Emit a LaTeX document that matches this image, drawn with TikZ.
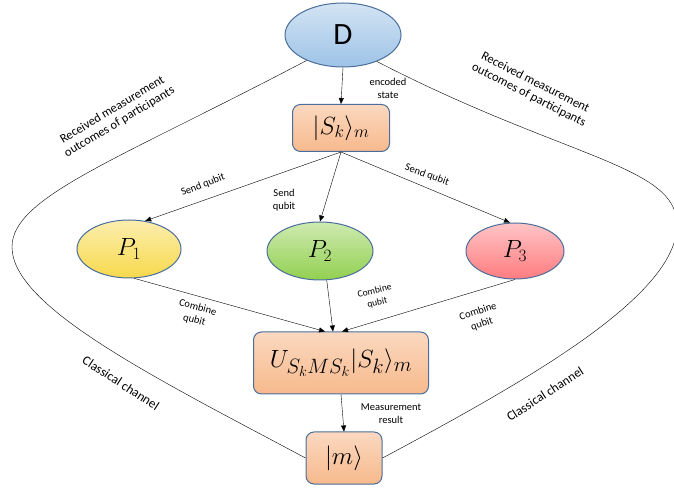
\documentclass[tikz,border=0pt]{standalone}
\usepackage{fontspec}
\setmainfont{Carlito}
\usetikzlibrary{arrows.meta,shapes.geometric,positioning}
\definecolor{bordblue}{HTML}{4A6E9C}
\definecolor{dealerblue}{HTML}{9DC3E6}
\definecolor{pyellow}{HTML}{F7D94C}
\definecolor{pgreen}{HTML}{92D050}
\definecolor{ppink}{HTML}{FF7C80}
\definecolor{peach}{HTML}{F7B98C}

\begin{document}
\begin{tikzpicture}[x=1pt, y=1pt, >={Triangle[length=6pt,width=5pt]},
  party/.style={ellipse, draw=bordblue, line width=1pt, inner sep=0pt,
    font=\fontsize{26}{28}\selectfont},
  statebox/.style={rectangle, rounded corners=8pt, draw=bordblue, line width=1pt,
    top color=peach!55!white, bottom color=peach, inner sep=0pt},
  lbl/.style={font=\fontsize{10.5}{13}\selectfont, align=center, inner sep=1pt},
  chan/.style={font=\fontsize{12.5}{14}\selectfont, align=center, inner sep=1pt}]
  \useasboundingbox (0,0) rectangle (674,487);
  % dealer and shared state
  \node[party, top color=dealerblue!45!white, bottom color=dealerblue,
        minimum width=116, minimum height=64, font=\fontsize{31}{33}\selectfont]
        (D) at (343,452) {D};
  \node[statebox, minimum width=97, minimum height=47, font=\fontsize{24}{26}\selectfont]
        (S) at (341,359) {$|S_k\rangle_m$};
  % participants
  \node[party, top color=pyellow!45!white, bottom color=pyellow,
        minimum width=104, minimum height=58] (P1) at (129,238) {$P_1$};
  \node[party, top color=pgreen!45!white, bottom color=pgreen,
        minimum width=106, minimum height=58] (P2) at (320,236) {$P_2$};
  \node[party, top color=ppink!45!white, bottom color=ppink,
        minimum width=98, minimum height=56] (P3) at (515,236) {$P_3$};
  % combined state and result
  \node[statebox, minimum width=175, minimum height=62, font=\fontsize{29}{31}\selectfont]
        (U) at (341,124) {$U_{S_kMS_k}|S_k\rangle_m$};
  \node[statebox, minimum width=76, minimum height=52, font=\fontsize{26}{28}\selectfont]
        (m) at (344,29) {$|m\rangle$};
  % turning points of the classical channels
  \coordinate (lft) at (12,240);
  \coordinate (rgt) at (677,262);

  % quantum flow
  \draw[->] (D.south) -- (S.north);
  \draw[->] (S.south) -- (P1.60);
  \draw[->] (S.south) -- (P2.north);
  \draw[->] (S.south) -- (P3.100);
  \draw[->] (P1.-80) -- ([xshift=-16pt]U.north);
  \draw[->] (P2.-77) -- ([xshift=-8pt]U.north);
  \draw[->] (P3.south) -- ([xshift=1pt]U.north);
  \draw[->] (U.south) -- (m.north);
  % classical channels
  \draw (D.215) .. controls +(-190,-100) and +(0,50) .. (lft)
        .. controls +(0,-60) and +(-150,80) .. (m.west);
  \draw (D.-38) .. controls +(190,-98) and +(0,60) .. (rgt)
        .. controls +(0,-70) and +(150,80) .. (m.east);

  % labels
  \node[lbl] (enc) at (388,399) {encoded\\state};
  \node[lbl, rotate=21] (snd1) at (203,302) {Send qubit};
  \node[lbl] (snd2) at (284,287) {Send\\qubit};
  \node[lbl, rotate=-20] (snd3) at (427,312) {Send qubit};
  \node[lbl, rotate=-15] (cmb1) at (196,173) {Combine\\qubit};
  \node[lbl, rotate=13, font=\fontsize{9.5}{12}\selectfont] (cmb2) at (376,190) {Combine\\qubit};
  \node[lbl, rotate=18] (cmb3) at (480,169) {Combine\\qubit};
  \node[lbl] (meas) at (391,73) {Measurement\\result};
  \node[chan, rotate=31] (rcv1) at (116,371) {Received measurement\\outcomes of participants};
  \node[chan, rotate=-27] (rcv2) at (532,398) {Received measurement\\outcomes of participants};
  \node[chan, rotate=-33, font=\fontsize{13}{14}\selectfont] (cls1) at (121,104) {Classical channel};
  \node[chan, rotate=33, font=\fontsize{13}{14}\selectfont] (cls2) at (545,93) {Classical channel};
\end{tikzpicture}
\end{document}
